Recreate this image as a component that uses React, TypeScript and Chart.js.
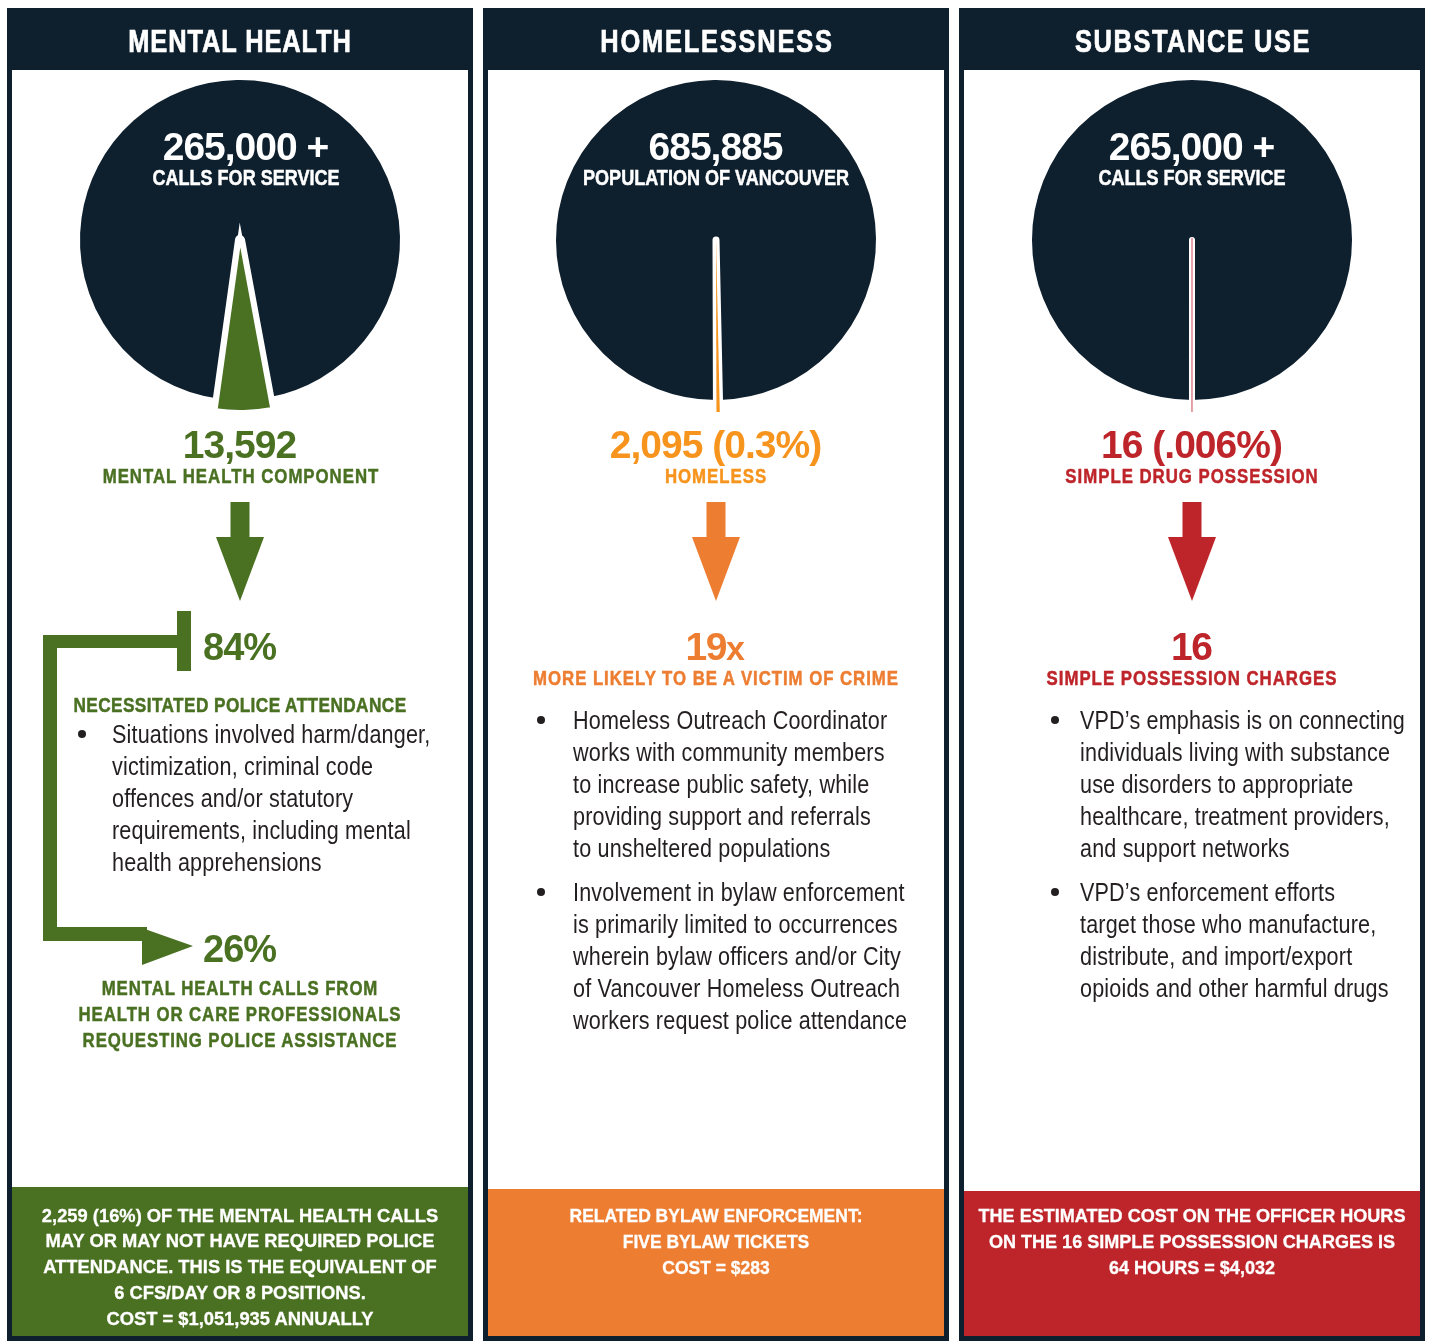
import React, { useEffect, useRef } from 'react';
import { Chart, registerables } from 'chart.js';

Chart.register(...registerables);

// ---------------- data ----------------
const panelTitles = ['MENTAL HEALTH', 'HOMELESSNESS', 'SUBSTANCE USE'];
const totalValues = [265000, 685885, 265000];
const partValues = [13592, 2095, 16];
const totalLabels = ['265,000 +', '685,885', '265,000 +'];
const totalCaptions = ['CALLS FOR SERVICE', 'POPULATION OF VANCOUVER', 'CALLS FOR SERVICE'];
const partLabels = ['13,592', '2,095 (0.3%)', '16 (.006%)'];
const partCaptions = ['MENTAL HEALTH COMPONENT', 'HOMELESS', 'SIMPLE DRUG POSSESSION'];

const mhAttendancePct = '84%';
const mhAttendanceCaption = 'NECESSITATED POLICE ATTENDANCE';
const mhAttendanceBullet = [
  'Situations involved harm/danger,',
  'victimization, criminal code',
  'offences and/or statutory',
  'requirements, including mental',
  'health apprehensions',
];
const mhProfessionalPct = '26%';
const mhProfessionalCaption = [
  'MENTAL HEALTH CALLS FROM',
  'HEALTH OR CARE PROFESSIONALS',
  'REQUESTING POLICE ASSISTANCE',
];

const homelessMultiple = '19';
const homelessMultipleSuffix = 'x';
const homelessMultipleCaption = 'MORE LIKELY TO BE A VICTIM OF CRIME';
const homelessBullets = [
  [
    'Homeless Outreach Coordinator',
    'works with community members',
    'to increase public safety, while',
    'providing support and referrals',
    'to unsheltered populations',
  ],
  [
    'Involvement in bylaw enforcement',
    'is primarily limited to occurrences',
    'wherein bylaw officers and/or City',
    'of Vancouver Homeless Outreach',
    'workers request police attendance',
  ],
];

const possessionCharges = '16';
const possessionCaption = 'SIMPLE POSSESSION CHARGES';
const substanceBullets = [
  [
    'VPD\u2019s emphasis is on connecting',
    'individuals living with substance',
    'use disorders to appropriate',
    'healthcare, treatment providers,',
    'and support networks',
  ],
  [
    'VPD\u2019s enforcement efforts',
    'target those who manufacture,',
    'distribute, and import/export',
    'opioids and other harmful drugs',
  ],
];

const footerLines = [
  [
    '2,259 (16%) OF THE MENTAL HEALTH CALLS',
    'MAY OR MAY NOT HAVE REQUIRED POLICE',
    'ATTENDANCE. THIS IS THE EQUIVALENT OF',
    '6 CFS/DAY OR 8 POSITIONS.',
    'COST = $1,051,935 ANNUALLY',
  ],
  ['RELATED BYLAW ENFORCEMENT:', 'FIVE BYLAW TICKETS', 'COST = $283'],
  [
    'THE ESTIMATED COST ON THE OFFICER HOURS',
    'ON THE 16 SIMPLE POSSESSION CHARGES IS',
    '64 HOURS = $4,032',
  ],
];

// ---------------- styles ----------------
const NAVY = '#0e1f2d';
const GREEN = '#4a7022';
const ORANGE_LIGHT = '#f7941d';
const ORANGE = '#ed7d31';
const RED = '#be252a';
const BODY = '#231f20';
const FONT = '"Liberation Sans", Arial, sans-serif';
const NARROW_SX = 0.82;

const boxLefts = [7, 483, 959];
const centersX = [240, 716, 1192];
const sliceColors = [GREEN, ORANGE_LIGHT, '#be1e2d'];
const topLabelColors = [GREEN, ORANGE_LIGHT, RED];
const arrowColors = [GREEN, ORANGE, RED];
const footerColors = [GREEN, ORANGE, RED];
const footerTops = [1187, 1189, 1191];
const footerSx = [0.965, 0.92, 0.95];
const headerLs = [1.1, 2.2, 1.9];
const sliceCenterDeg = [178.7, 179.3, 180];
const totalLabelDx = [6, 0, 0];
// dark pie layer
const darkBorder = [10, 7, 6];
// small-slice layer
const sliceCY = [235, 238, 238];
const sliceR = [177, 174, 174];
const sliceBorder = [4, 0, 1];
const sliceBorderColor = ['#ffffff', '#ffffff', 'rgba(200,70,80,0.55)'];
const sliceJoin = ['miter', 'bevel', 'bevel'];

type PieProps = {
  cx: number;
  cy: number;
  box: number;
  radius: number;
  total: number;
  part: number;
  centerDeg: number;
  colors: string[];
  bw: number[];
  bc: string[];
  join: string[];
};

function PieLayer(p: PieProps) {
  const ref = useRef<HTMLCanvasElement>(null);
  useEffect(() => {
    const a = (360 * p.part) / p.total;
    const rotation = p.centerDeg - 360 + a / 2;
    const chart = new Chart(ref.current as HTMLCanvasElement, {
      type: 'pie',
      data: {
        labels: ['other', 'part'],
        datasets: [
          {
            data: [p.total - p.part, p.part],
            backgroundColor: p.colors,
            borderColor: p.bc,
            borderWidth: p.bw,
            borderJoinStyle: p.join as any,
            borderAlign: 'center',
            radius: p.radius,
            rotation,
          } as any,
        ],
      },
      options: {
        responsive: false,
        animation: false,
        events: [],
        radius: p.radius,
        rotation,
        layout: { padding: 0 },
        plugins: { legend: { display: false }, tooltip: { enabled: false } },
      } as any,
    });
    return () => chart.destroy();
  }, []);
  return (
    <canvas
      ref={ref}
      width={p.box}
      height={p.box}
      style={{ position: 'absolute', left: p.cx - p.box / 2, top: p.cy - p.box / 2, width: p.box, height: p.box }}
    />
  );
}

type TxtProps = {
  x: number;
  base: number;
  fs: number;
  lh?: number;
  lines: React.ReactNode[];
  color: string;
  weight?: number;
  align?: 'center' | 'left';
  ls?: number;
  sx?: number;
  w?: number;
  stroke?: number;
};

function Txt({ x, base, fs, lh, lines, color, weight = 700, align = 'center', ls = 0, sx = 1, w = 560, stroke = 0 }: TxtProps) {
  const lineH = lh ?? fs;
  const top = base - (lineH / 2 + 0.3465 * fs);
  const left = align === 'center' ? x - w / 2 + (ls * sx) / 2 : x;
  const style: any = {
    position: 'absolute',
    left,
    top,
    width: w,
    textAlign: align,
    fontFamily: FONT,
    fontSize: fs,
    lineHeight: lineH + 'px',
    fontWeight: weight,
    color,
    letterSpacing: ls,
    whiteSpace: 'pre',
    transform: `scaleX(${sx})`,
    transformOrigin: align === 'center' ? `${w / 2}px 0px` : '0px 0px',
  };
  if (stroke > 0) style.WebkitTextStroke = `${stroke}px ${color}`;
  return (
    <div style={style}>
      {lines.map((l, k) => (
        <div key={k}>{l}</div>
      ))}
    </div>
  );
}

function Dot({ x, y }: { x: number; y: number }) {
  return (
    <div
      style={{ position: 'absolute', left: x - 4, top: y - 4, width: 8, height: 8, borderRadius: 4, background: BODY }}
    />
  );
}

function downArrow(cx: number) {
  return [
    [cx - 9.5, 502],
    [cx + 9.5, 502],
    [cx + 9.5, 537],
    [cx + 24, 537],
    [cx, 601],
    [cx - 24, 537],
    [cx - 9.5, 537],
  ]
    .map((q) => q.join(','))
    .join(' ');
}

export default function App() {
  return (
    <div
      style={{
        position: 'absolute',
        left: 0,
        top: 0,
        width: 1429,
        height: 1341,
        background: '#ffffff',
        overflow: 'hidden',
      }}
    >
      {/* panel frames */}
      {boxLefts.map((L, i) => (
        <React.Fragment key={'f' + i}>
          <div style={{ position: 'absolute', left: L, top: 8, width: 466, height: 62, background: NAVY }} />
          <div style={{ position: 'absolute', left: L, top: 8, width: 5, height: 1333, background: NAVY }} />
          <div style={{ position: 'absolute', left: L + 461, top: 8, width: 5, height: 1333, background: NAVY }} />
          <div style={{ position: 'absolute', left: L, top: 1336, width: 466, height: 5, background: NAVY }} />
          <div
            style={{
              position: 'absolute',
              left: L + 5,
              top: footerTops[i],
              width: 456,
              height: 1336 - footerTops[i],
              background: footerColors[i],
            }}
          />
        </React.Fragment>
      ))}

      {/* pies: dark layer + highlighted slice layer */}
      {centersX.map((cx, i) => (
        <React.Fragment key={'p' + i}>
          <PieLayer
            cx={cx}
            cy={240}
            box={360}
            radius={160 + darkBorder[i] / 2}
            total={totalValues[i]}
            part={partValues[i]}
            centerDeg={sliceCenterDeg[i]}
            colors={[NAVY, 'rgba(0,0,0,0)']}
            bw={[darkBorder[i], 0]}
            bc={['#ffffff', '#ffffff']}
            join={['round', 'round']}
          />
          <PieLayer
            cx={cx}
            cy={sliceCY[i]}
            box={390}
            radius={sliceR[i]}
            total={totalValues[i]}
            part={partValues[i]}
            centerDeg={sliceCenterDeg[i]}
            colors={['rgba(0,0,0,0)', sliceColors[i]]}
            bw={[0, sliceBorder[i]]}
            bc={['#ffffff', sliceBorderColor[i]]}
            join={['round', sliceJoin[i]]}
          />
        </React.Fragment>
      ))}

      {/* arrows and bracket */}
      <svg width={1429} height={1341} style={{ position: 'absolute', left: 0, top: 0 }}>
        {centersX.map((cx, i) => (
          <polygon key={'a' + i} points={downArrow(cx)} fill={arrowColors[i]} />
        ))}
        <g fill={GREEN}>
          <rect x={177} y={611} width={14} height={60} />
          <rect x={43} y={635} width={148} height={13} />
          <rect x={43} y={635} width={14} height={306} />
          <rect x={43} y={927} width={104} height={14} />
          <polygon points="142,928 142,965 193,946" />
        </g>
      </svg>

      {/* texts */}
      {centersX.map((cx, i) => (
        <React.Fragment key={'t' + i}>
          <Txt x={cx} base={52} fs={31} ls={headerLs[i]} sx={NARROW_SX} stroke={0.7} lines={[panelTitles[i]]} color="#ffffff" />
          <Txt x={cx + totalLabelDx[i]} base={160} fs={39} ls={-1} lines={[totalLabels[i]]} color="#ffffff" />
          <Txt x={cx + totalLabelDx[i]} base={186} fs={22} sx={NARROW_SX} stroke={0.5} lines={[totalCaptions[i]]} color="#ffffff" />
          <Txt x={cx} base={458} fs={39} ls={-1} lines={[partLabels[i]]} color={topLabelColors[i]} />
          <Txt x={cx} base={483} fs={20.5} ls={1.2} sx={NARROW_SX} stroke={0.5} lines={[partCaptions[i]]} color={topLabelColors[i]} />
          <Txt
            x={cx}
            base={footerTops[i] === 1187 ? 1222 : 1223}
            fs={19}
            lh={footerTops[i] === 1187 ? 25.8 : 26}
            sx={footerSx[i]}
            stroke={0.3}
            lines={footerLines[i]}
            color="#ffffff"
          />
        </React.Fragment>
      ))}

      {/* panel 1 details */}
      <Txt x={203} base={660} fs={38} ls={-1} align="left" w={120} lines={[mhAttendancePct]} color={GREEN} />
      <Txt x={240} base={712} fs={21} ls={0.5} sx={NARROW_SX} stroke={0.5} lines={[mhAttendanceCaption]} color={GREEN} />
      <Dot x={82} y={734} />
      <Txt x={112} base={743} fs={26} lh={32} weight={400} align="left" sx={0.83} ls={0.2} w={420} lines={mhAttendanceBullet} color={BODY} />
      <Txt x={203} base={962} fs={38} ls={-1} align="left" w={120} lines={[mhProfessionalPct]} color={GREEN} />
      <Txt x={240} base={995} fs={20.5} lh={26} ls={1.1} sx={NARROW_SX} stroke={0.5} lines={mhProfessionalCaption} color={GREEN} />

      {/* panel 2 details */}
      <Txt
        x={716}
        base={660}
        fs={39}
        ls={-1.5}
        lines={[
          <span>
            {homelessMultiple}
            <span style={{ fontSize: 34, letterSpacing: 0 }}>{homelessMultipleSuffix}</span>
          </span>,
        ]}
        color={ORANGE}
      />
      <Txt x={716} base={685} fs={20.5} ls={1.15} sx={NARROW_SX} stroke={0.5} lines={[homelessMultipleCaption]} color={ORANGE} />
      <Dot x={541} y={720} />
      <Txt x={573} base={729.5} fs={26} lh={32} weight={400} align="left" sx={0.83} ls={0.2} w={440} lines={homelessBullets[0]} color={BODY} />
      <Dot x={541} y={892} />
      <Txt x={573} base={901.5} fs={26} lh={32} weight={400} align="left" sx={0.83} ls={0.2} w={440} lines={homelessBullets[1]} color={BODY} />

      {/* panel 3 details */}
      <Txt x={1192} base={660} fs={39} ls={-1.5} lines={[possessionCharges]} color={RED} />
      <Txt x={1192} base={685} fs={20.5} ls={1.2} sx={NARROW_SX} stroke={0.5} lines={[possessionCaption]} color={RED} />
      <Dot x={1054.5} y={720} />
      <Txt x={1080} base={729.5} fs={26} lh={32} weight={400} align="left" sx={0.83} ls={0.2} w={420} lines={substanceBullets[0]} color={BODY} />
      <Dot x={1054.5} y={892} />
      <Txt x={1080} base={901.5} fs={26} lh={32} weight={400} align="left" sx={0.83} ls={0.2} w={420} lines={substanceBullets[1]} color={BODY} />
    </div>
  );
}
